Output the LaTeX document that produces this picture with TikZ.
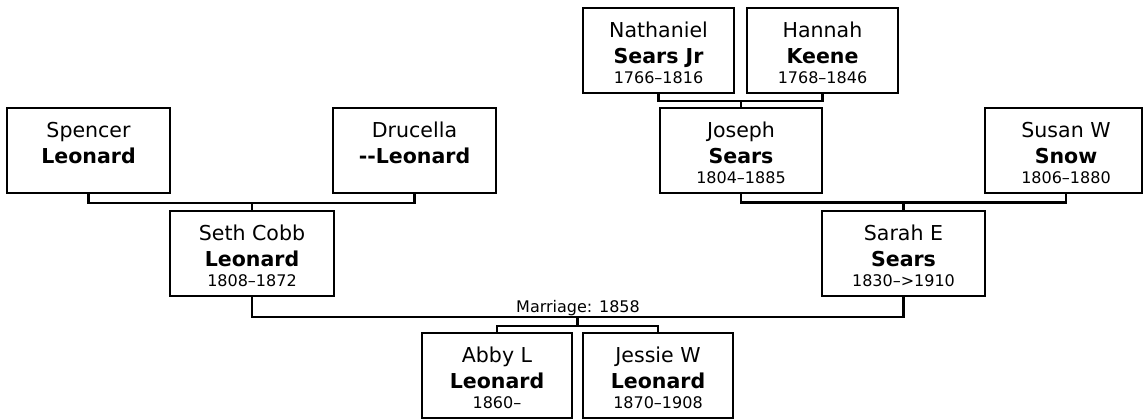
\documentclass[tikz,border=0pt]{standalone}
\usepackage{fontspec}
\setmainfont{DejaVu Sans}
\newcommand\namefont{\fontsize{15.4}{18}\selectfont}
\newcommand\boldnamefont{\fontsize{15.4}{18}\selectfont\bfseries}
\newcommand\yearfont{\fontsize{12}{14}\selectfont}
\tikzset{
  personbox/.style={draw=black, line width=1.9pt, fill=white, inner sep=0pt, outer sep=0pt, minimum height=63.75pt},
  txt/.style={anchor=base, inner sep=0pt, outer sep=0pt, text=black},
  link/.style={draw=black, line width=1.9pt}
}
% name, box cx, text cx, top, width, first, last, years
\newcommand\person[8]{%
  \node[personbox, minimum width={#5*0.75pt}] (#1) at (#2,#4+42.5) {};
  \node[txt, font=\namefont] (#1-a) at (#3,#4+29) {#6};
  \node[txt, font=\boldnamefont] (#1-b) at (#3,#4+55) {#7};
  \node[txt, font=\yearfont] (#1-c) at (#3,#4+75.5) {#8};
}
\begin{document}
\begin{tikzpicture}[x=0.75pt, y=-0.75pt]
\useasboundingbox (0,0) rectangle (1143,419);
\fill[white] (0,0) rectangle (1143,419);

\person{spencer}{88.5}{88.5}{108}{163}{Spencer}{Leonard}{\strut}
\person{drucella}{414.5}{414.5}{108}{163}{Drucella}{-{}-Leonard}{\strut}
\person{seth}{252}{252}{211}{164}{Seth Cobb}{Leonard}{1808–1872}
\person{nathaniel}{658.5}{658.5}{8}{151}{Nathaniel}{Sears Jr}{1766–1816}
\person{hannah}{822.5}{822.5}{8}{151}{Hannah}{Keene}{1768–1846}
\person{joseph}{741}{741}{108}{162}{Joseph}{Sears}{1804–1885}
\person{susan}{1063.5}{1066}{108}{157}{Susan W}{Snow}{1806–1880}
\person{sarah}{903.5}{903.5}{211}{163}{Sarah E}{Sears}{1830–>1910}
\person{abby}{497}{497}{333}{150}{Abby L}{Leonard}{1860–}
\person{jessie}{658}{658}{333}{150}{Jessie W}{Leonard}{1870–1908}

% Spencer + Drucella -> Seth
\coordinate (sethjn) at (252,203);
\draw[link] (spencer.south) |- (sethjn) -| (drucella.south);
\draw[link] (sethjn) -- (seth.north);

% Nathaniel + Hannah -> Joseph
\coordinate (josephjn) at (741,101);
\draw[link] (nathaniel.south) |- (josephjn) -| (hannah.south);
\draw[link] (josephjn) -- (joseph.north);

% Joseph + Susan -> Sarah
\coordinate (sarahjn) at (903.5,202.5);
\draw[link] (joseph.south) |- (sarahjn) -| (susan-a |- susan.south);
\draw[link] (sarahjn) -- (sarah.north);

% Seth + Sarah marriage -> children
\coordinate (marrjn) at (577.75,317);
\coordinate (kidsjn) at (577.75,326);
\draw[link] (seth.south) |- (marrjn) -| (sarah.south);
\node[txt, font=\yearfont] (marr) at (578,312.5) {Marriage: 1858};
\draw[link] (marrjn) -- (kidsjn);
\draw[link] (abby.north) |- (kidsjn) -| (jessie.north);
\end{tikzpicture}
\end{document}
